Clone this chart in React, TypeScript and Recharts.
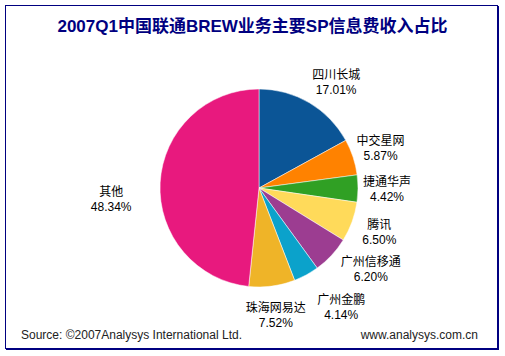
import { PieChart, Pie, Cell } from "recharts";

const names = ["四川长城", "中交星网", "捷通华声", "腾讯", "广州信移通", "广州金鹏", "珠海网易达", "其他"];
const shares = [17.01, 5.87, 4.42, 6.5, 6.2, 4.14, 7.52, 48.34];
const colors = ["#0B5596", "#FF8200", "#30A024", "#FFDA5A", "#9C3D91", "#0BA2CB", "#EFB428", "#E8197E"];

const title = "2007Q1中国联通BREW业务主要SP信息费收入占比";
const sourceText = "Source: ©2007Analysys International Ltd.";
const siteText = "www.analysys.com.cn";

// excel moved a few labels by hand, small nudges from the radial spot
const labelNudge: Record<string, [number, number]> = {
  "四川长城": [12, 4],
  "广州信移通": [18, -6],
  "广州金鹏": [21, 7],
  "其他": [-20, 18],
};

const RADIAN = Math.PI / 180;
const font = '"Liberation Sans", Arial, "Noto Sans CJK SC", sans-serif';

const SliceLabel = (props: any) => {
  const { cx, cy, midAngle, outerRadius, name, value } = props;
  const r = outerRadius + 29;
  const nudge = labelNudge[name] || [0, 0];
  const x = cx + r * Math.cos(-midAngle * RADIAN) + nudge[0];
  const y = cy + r * Math.sin(-midAngle * RADIAN) + nudge[1];
  return (
    <text x={x} y={y} textAnchor="middle" fontFamily={font} fontSize={12} fill="#000">
      <tspan x={x} dy={-3}>{name}</tspan>
      <tspan x={x} dy={15}>{value.toFixed(2)}%</tspan>
    </text>
  );
};

const data = names.map((name, i) => ({ name, value: shares[i] }));

export default function App() {
  return (
    <div style={{ position: "absolute", left: 0, top: 0, width: 505, height: 356, background: "#fff" }}>
      <div
        style={{
          position: "absolute",
          left: 5,
          top: 5,
          width: 491,
          height: 342,
          border: "1px solid #000080",
          boxShadow: "1px 1px 0 #000080",
        }}
      />
      <div
        style={{
          position: "absolute",
          left: 0,
          top: 16,
          width: 505,
          textAlign: "center",
          fontFamily: font,
          fontWeight: "bold",
          fontSize: 17,
          color: "#000080",
          lineHeight: "22px",
        }}
      >
        {title}
      </div>
      <PieChart
        width={505}
        height={356}
        margin={{ top: 0, right: 0, bottom: 0, left: 0 }}
        style={{ position: "absolute", left: 0, top: 0 }}
      >
        <Pie
          data={data}
          dataKey="value"
          nameKey="name"
          cx={259}
          cy={188}
          outerRadius={99}
          startAngle={90}
          endAngle={-270}
          stroke="#ffffff"
          strokeWidth={0.5}
          label={SliceLabel}
          labelLine={false}
          isAnimationActive={false}
        >
          {data.map((d, i) => (
            <Cell key={d.name} fill={colors[i]} />
          ))}
        </Pie>
      </PieChart>
      <div style={{ position: "absolute", left: 21, top: 328, fontFamily: font, fontSize: 12, color: "#222" }}>
        {sourceText}
      </div>
      <div style={{ position: "absolute", right: 27, top: 328, fontFamily: font, fontSize: 12, color: "#222" }}>
        {siteText}
      </div>
    </div>
  );
}
